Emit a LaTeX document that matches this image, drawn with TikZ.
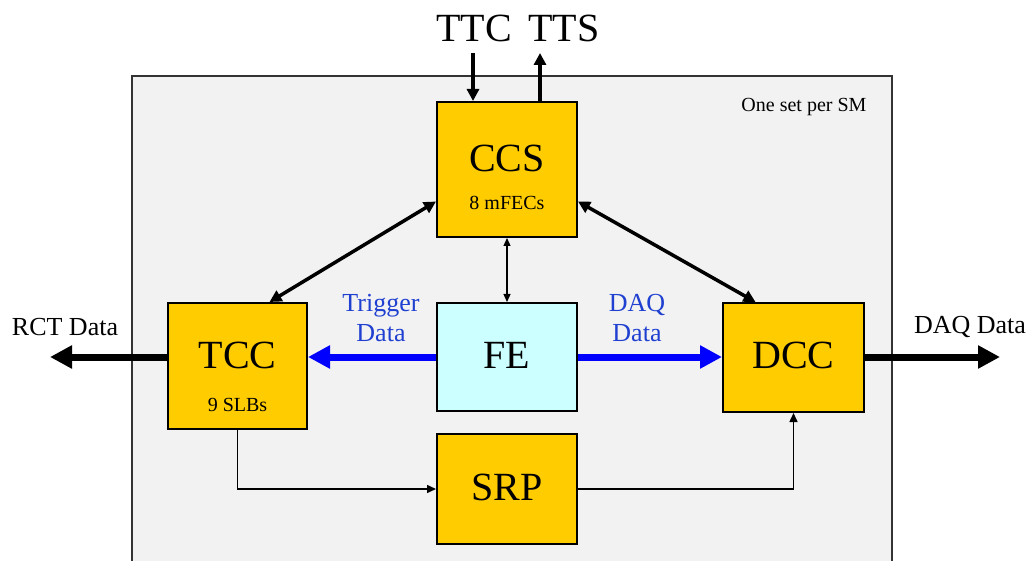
\documentclass[tikz,border=0pt]{standalone}
\usepackage{fontspec}
\setmainfont{Liberation Serif}
\usepackage{xcolor}
\usetikzlibrary{arrows.meta}

\definecolor{gold}{HTML}{FFCC00}
\definecolor{feblue}{HTML}{CCFFFF}
\definecolor{smgray}{HTML}{F2F2F2}
\definecolor{txtblue}{HTML}{1F40D0}

\tikzset{
  blk/.style={draw=black,line width=2pt,fill=gold,inner sep=0pt},
  big/.style={font=\fontsize{40}{44}\selectfont},
  sub/.style={font=\fontsize{20}{23}\selectfont},
  lbl/.style={font=\fontsize{26}{30}\selectfont},
  link/.style={line width=3.5pt,{Triangle[length=12pt,width=12pt]}-{Triangle[length=12pt,width=12pt]}},
  fat/.style={line width=7pt,-{Triangle[length=22pt,width=22pt]}},
  thin/.style={line width=1.5pt,-{Triangle[length=9pt,width=8pt]}}
}

\begin{document}
\begin{tikzpicture}[x=1pt,y=-1pt]
        \useasboundingbox (0,0) rectangle (1028,561);
        % super module frame
        \draw[fill=smgray,draw=black!80,line width=1.5pt] (132,76) rectangle (892,580);
        \node[sub,anchor=east] at (870,107) {One set per SM};
        % boards
        \node[blk,minimum width=140pt,minimum height=135pt] (ccs) at (507,169.5) {};
        \node[big] at (507,158) {CCS};
        \node[sub] at (507,203) {8 mFECs};
        \node[blk,minimum width=139pt,minimum height=126pt] (tcc) at (237.5,366) {};
        \node[big] at (237.5,355) {TCC};
        \node[sub] at (237.5,405) {9 SLBs};
        \node[blk,fill=feblue,minimum width=140pt,minimum height=108pt] (fe) at (507,357) {};
        \node[big] at (507,355) {FE};
        \node[blk,minimum width=141pt,minimum height=109pt] (dcc) at (793.5,357.5) {};
        \node[big] at (793.5,355) {DCC};
        \node[blk,minimum width=140pt,minimum height=110pt] (srp) at (507,489) {};
        \node[big] at (507,487) {SRP};
        % TTC / TTS
        \node[big] (ttc) at (474,28) {TTC};
        \node[big] (tts) at (564,28) {TTS};
        \coordinate (ttcin) at (473,53);
        \coordinate (ttsout) at (540,53);
        \draw[line width=3.5pt,-{Triangle[length=12pt,width=12pt]}] (ttcin) -- (ttcin |- ccs.north);
        \draw[line width=3.5pt,-{Triangle[length=12pt,width=12pt]}] (ttsout |- ccs.north) -- (ttsout);
        % control links
        \draw[link] ([yshift=-32pt]ccs.west) -- ([xshift=32pt]tcc.north);
        \draw[link] ([yshift=-32pt]ccs.east) -- ([xshift=-38pt]dcc.north);
        \draw[line width=1.2pt,{Triangle[length=8pt,width=7pt]}-{Triangle[length=8pt,width=7pt]}] (ccs.south) -- (fe.north);
        % data paths
        \draw[fat,blue] (fe.west) -- (fe.west -| tcc.east);
        \draw[fat,blue] (fe.east) -- (fe.east -| dcc.west);
        \node[lbl,txtblue,align=center] at (381,318) {Trigger\\Data};
        \node[lbl,txtblue,align=center] at (637,318) {DAQ\\Data};
        \coordinate (rct) at (50,357);
        \coordinate (daq) at (1000,357);
        \draw[fat,black] (tcc.west |- rct) -- (rct);
        \draw[fat,black] (dcc.east |- daq) -- (daq);
        \node[lbl] at (65,327) {RCT Data};
        \node[lbl] at (970,327) {DAQ Data};
        % selective readout
        \draw[thin] (tcc.south) |- (srp.west);
        \draw[thin] (srp.east) -| (dcc.south);
    \end{tikzpicture}
\end{document}
